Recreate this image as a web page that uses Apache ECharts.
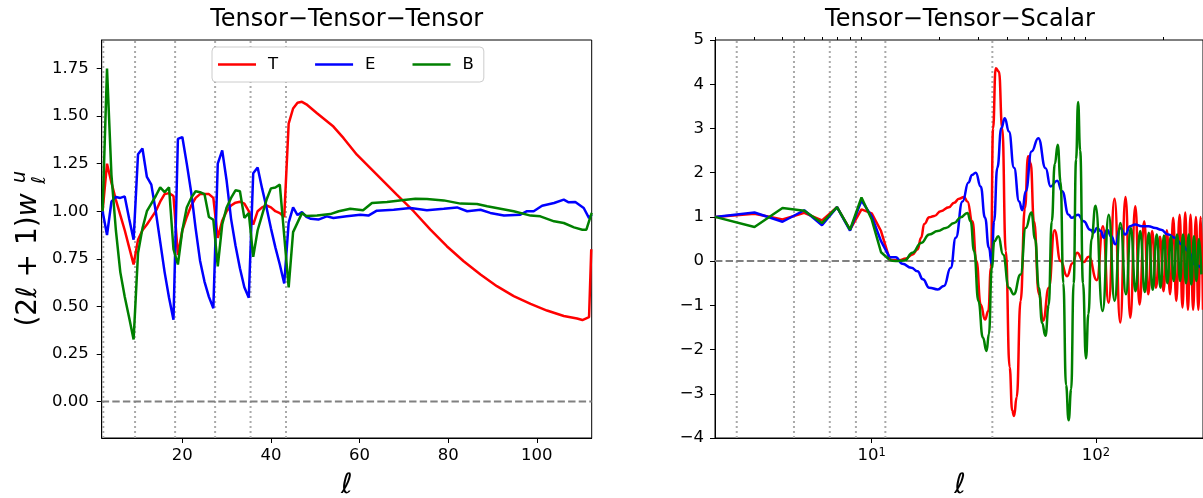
<!DOCTYPE html>
<html><head><meta charset="utf-8">
<script src="https://cdn.jsdelivr.net/npm/echarts@6/dist/echarts.min.js"></script>
<style>html,body{margin:0;padding:0;background:#fff}#c{width:1203px;height:498px}</style>
</head><body><div id="c"></div>
<script>
// ---------- names / labels ----------
const seriesNames = ['T', 'E', 'B'];
const titleLeft = 'Tensor\u2212Tensor\u2212Tensor';
const titleRight = 'Tensor\u2212Tensor\u2212Scalar';
const leftYTicks = [0, 0.25, 0.5, 0.75, 1.0, 1.25, 1.5, 1.75];
const leftXTicks = [20, 40, 60, 80, 100];
const rightXMajor = [10, 100];
const rightXMinor = [2,3,4,5,6,7,8,9,20,30,40,50,60,70,80,90,200,300];
const leftDotted = [2.16, 9.33, 18.37, 27.4, 35.4, 43.4];
const rightDotted = [2.5, 4.5, 6.5, 8.5, 11.5, 34.5];
const leftXRange = [1.8, 112.4], leftYRange = [-0.192, 1.90];
const rightXRange = [2, 300], rightYRange = [-4, 5];

// ---------- left panel (Tensor-Tensor-Tensor) ----------
const tttT = [[2,1.0],[3,1.25],[4,1.15],[5,1.06],[6,0.98],[7,0.9],[8,0.81],[9,0.72],[10,0.85],[11,0.9],[12,0.93],[13,0.965],[14,1.0],[15,1.05],[16,1.09],[17,1.095],[18,1.08],[19,0.77],[20,0.9],[21,0.97],[22,1.03],[23,1.07],[24,1.09],[25,1.09],[26,1.09],[27,1.07],[28,0.86],[29,0.95],[30,1.0],[31,1.03],[32,1.045],[33,1.05],[34,1.04],[35,1.0],[36,0.93],[37,1.0],[38,1.02],[39,1.03],[40,1.02],[41,1.0],[42,0.99],[43,0.97],[44,1.46],[45,1.54],[46,1.57],[47,1.575],[48,1.562],[50.4,1.515],[54.1,1.445],[56.4,1.384],[59.4,1.297],[63.9,1.192],[68.4,1.087],[72.2,1.0],[76,0.903],[79.7,0.816],[83.5,0.737],[87.3,0.667],[91,0.606],[94.8,0.554],[98.6,0.513],[102.3,0.478],[106.1,0.449],[109.1,0.436],[110.3,0.428],[111.8,0.443],[112.3,0.8]];
const tttE = [[2,1.0],[3,0.875],[4,1.05],[5,1.075],[6,1.07],[7,1.078],[8,0.96],[9,0.85],[10,1.30],[11,1.33],[12,1.18],[13,1.14],[14,1.0],[15,0.84],[16,0.68],[17,0.545],[18,0.43],[19,1.38],[20,1.39],[21,1.25],[22,1.10],[23,0.91],[24,0.74],[25,0.63],[26,0.55],[27,0.49],[28,1.25],[29,1.32],[30,1.16],[31,0.96],[32,0.82],[33,0.70],[34,0.60],[35,0.545],[36,1.20],[37,1.23],[38,1.12],[39,1.02],[40,0.91],[41,0.81],[42,0.72],[43,0.62],[44,0.94],[45,1.02],[46,0.98],[47,0.995],[48,0.97],[49,0.96],[50.7,0.956],[52.6,0.973],[54.1,0.964],[57.1,0.973],[60.2,0.982],[62,0.977],[63.9,1.003],[67.7,1.008],[71.5,1.017],[75.2,1.005],[79,1.013],[82,1.02],[84.3,1.0],[87.3,1.008],[89.5,0.991],[92.6,0.977],[96.3,0.982],[97.8,1.0],[99.3,1.0],[101.2,1.029],[103.9,1.043],[106.1,1.061],[107.2,1.047],[108.7,1.048],[110.6,1.017],[111.8,0.964],[112.4,0.982]];
const tttB = [[2,1.0],[3,1.75],[4,1.19],[5,0.9],[6,0.68],[7,0.55],[8,0.44],[9,0.326],[10,0.78],[11,0.91],[12,1.0],[13,1.04],[14,1.08],[15,1.125],[16,1.10],[17,1.125],[18,0.80],[19,0.72],[20,0.9],[21,1.02],[22,1.07],[23,1.105],[24,1.10],[25,1.09],[26,0.97],[27,0.955],[28,0.71],[29,0.93],[30,1.02],[31,1.07],[32,1.11],[33,1.105],[34,0.965],[35,0.99],[36,0.76],[37,0.9],[38,0.98],[39,1.06],[40,1.12],[41,1.125],[42,1.14],[43,0.87],[44,0.6],[45,0.89],[46,0.94],[47,0.99],[48,0.975],[50.4,0.977],[53.4,0.985],[55.3,1.0],[57.9,1.013],[60.8,1.005],[62.8,1.043],[66.2,1.048],[70,1.059],[72.6,1.066],[75.2,1.064],[79,1.057],[82.8,1.04],[86.5,1.038],[88.8,1.026],[91.8,1.013],[94.8,1.0],[98.6,0.977],[100.8,0.973],[103.9,0.947],[106.1,0.938],[108.4,0.915],[110.3,0.903],[111.2,0.903],[112.4,0.991]];

// ---------- right panel (Tensor-Tensor-Scalar): low-l (straight) ----------
const ttsT_low = [[2,1.0],[3,1.07],[4,0.94],[5,1.09],[6,0.92],[7,1.22],[8,0.71],[9,1.17],[10,1.08],[11,0.68],[12,0.05]];
const ttsE_low = [[2,1.0],[3,1.1],[4,0.89],[5,1.15],[6,0.81],[7,1.22],[8,0.69],[9,1.37],[10,1.01],[11,0.45],[12,0.09]];
const ttsB_low = [[2,1.0],[3,0.77],[4,1.2],[5,1.14],[6,0.86],[7,1.22],[8,0.71],[9,1.44],[10,0.94],[11,0.2],[12,0.03]];
// ---------- right panel: high-l (smooth) ----------
const ttsT_high = [[12,0.05],[12.4,0.02],[13.3,0.02],[14.2,0.06],[15.2,0.15],[16.0,0.26],[16.6,0.53],[17.15,0.84],[18.05,0.99],[19.0,1.02],[20.3,1.13],[22.1,1.22],[23.3,1.32],[24.5,1.41],[25.8,1.45],[26.7,1.35],[28.1,0.9],[29.3,0.0],[30.6,-0.98],[32.0,-1.32],[33.1,-1.13],[34.0,-0.15],[34.75,3.0],[35.7,4.36],[36.9,4.29],[38.2,3.0],[39.6,0.23],[41.2,-2.4],[42.3,-3.38],[43.1,-3.5],[44.3,-3.08],[46.1,-0.9],[48.2,1.2],[49.8,2.37],[51.1,2.22],[52.9,0.9],[55.7,-0.75],[58.1,-1.35],[61.6,-0.6],[65.3,0.7],[69.5,0.0],[74.3,-0.34],[78.5,-0.05],[82.3,0.19],[88.1,-0.02],[92.8,0.1],[100.9,-0.43],[107.4,0.79],[113.8,-0.94],[121,1.41],[128.3,-1.39],[135.4,1.45],[142.2,-1.28],[149.7,1.24],[156.4,-0.98],[164,0.9],[171,-0.75],[178,0.68],[185,-0.6],[193,0.55],[200,-0.68],[207,0.7],[214,-0.75],[221,0.98],[228,-0.9],[236,1.05],[243,-1.05],[250,1.1],[257,-1.1],[264,1.05],[271,-1.1],[279,1.0],[286,-1.1],[293,1.0],[300,-1.1]];
const ttsE_high = [[12,0.09],[12.8,0.09],[13.7,-0.06],[15.0,-0.15],[16.0,-0.23],[16.9,-0.41],[18.05,-0.6],[19.7,-0.64],[21.0,-0.56],[22.5,-0.15],[23.7,0.53],[25.4,1.35],[27.0,1.78],[28.0,1.95],[29.1,2.0],[30.6,1.69],[32.0,0.98],[33.3,0.30],[34.3,-0.07],[35.1,0.9],[36.3,2.11],[37.85,3.01],[39.2,3.23],[40.9,2.93],[43.1,2.11],[45.4,1.35],[46.9,1.15],[48.6,1.58],[51.6,2.48],[55.3,2.78],[59.6,2.1],[62.7,1.69],[67.1,1.82],[70.6,1.58],[75.5,1.05],[77.8,0.98],[83.2,1.05],[88.1,0.9],[94.2,0.71],[97.6,0.64],[101,0.75],[105,0.68],[108.4,0.53],[112,0.71],[117,0.56],[122,0.38],[128.3,0.75],[135,0.6],[142,0.79],[149.5,0.83],[160,0.79],[171.5,0.79],[184,0.75],[195,0.71],[210,0.6],[225,0.53],[241,0.38],[258,0.23],[276,-0.08],[295,-0.15]];
const ttsB_high = [[12,0.03],[12.8,0.0],[14.0,0.015],[15.2,0.19],[16.6,0.41],[18.05,0.6],[19.7,0.68],[21.4,0.75],[23.3,0.86],[24.95,0.99],[26.7,1.09],[27.6,0.9],[28.6,0.23],[29.9,-0.9],[31.3,-1.73],[32.5,-2.03],[33.3,-1.65],[34.3,-0.15],[35.2,0.45],[36.7,0.56],[38.5,0.15],[40.9,-0.6],[43.0,-0.75],[46.1,-0.3],[48.6,0.75],[51.5,1.1],[53.5,0.5],[55.6,-0.6],[57.5,-1.4],[59.5,-1.69],[61.5,-1.0],[63.5,0.9],[65.5,2.2],[67.5,2.63],[69.5,1.8],[71.5,-0.5],[73.5,-2.8],[75.5,-3.6],[77.5,-2.9],[79.5,-0.5],[81.5,2.3],[83.2,3.6],[85,2.5],[87.5,-0.5],[90.2,-2.2],[92.5,-1.2],[95.5,0.5],[99.5,1.25],[107,-1.13],[114,1.05],[121,-0.9],[128.5,0.86],[136,-0.75],[143,0.75],[150,-0.68],[157.5,0.68],[165,-0.7],[172,0.64],[179,-0.65],[186.5,0.6],[194,-0.6],[201,0.58],[208,-0.5],[215.5,0.56],[222,-0.45],[230,0.6],[237,-0.45],[244.5,0.6],[252,-0.5],[259,0.6],[266,-0.53],[273.5,0.56],[280,-0.45],[288,0.5],[295,-0.3]];

const COL = {T:'#ff0000', E:'#0000ff', B:'#008000'};
const FONT = 'DejaVu Sans';
const LW = 2.5;

const chart = echarts.init(document.getElementById('c'), null, {renderer:'canvas'});

function lineSeries(name, data, xi, yi, smooth) {
  const s = {type:'line', name, data, xAxisIndex:xi, yAxisIndex:yi, symbol:'none', showSymbol:false,
    smooth: smooth || false,
    lineStyle:{color:COL[name], width:LW}, itemStyle:{color:COL[name]}, clip:true, silent:true, z:3, animation:false};
  if (smooth) s.smoothMonotone = 'x';
  return s;
}
function guideLine(xi, yi, data, color, dash, z) {
  return {type:'line', data, xAxisIndex:xi, yAxisIndex:yi, symbol:'none', showSymbol:false, silent:true, z, animation:false,
    clip:true, lineStyle:{color, width:2, type:dash}, itemStyle:{color}};
}
const guides = [];
leftDotted.forEach(v => guides.push(guideLine(0, 0, [[v, leftYRange[0]], [v, leftYRange[1]]], '#aaaaaa', [2, 3], 1)));
rightDotted.forEach(v => guides.push(guideLine(1, 1, [[v, rightYRange[0]], [v, rightYRange[1]]], '#aaaaaa', [2, 3], 1)));
guides.push(guideLine(0, 0, [[leftXRange[0], 0], [leftXRange[1], 0]], '#808080', [7.4, 3.2], 2));
guides.push(guideLine(1, 1, [[rightXRange[0], 0], [rightXRange[1], 0]], '#808080', [7.4, 3.2], 2));

const tickLabel = {fontFamily:FONT, fontSize:16.5, color:'#000'};

const option = {
  animation:false,
  backgroundColor:'#fff',
  grid:[
    {left:101.7, top:40, width:490, height:398, show:true, borderColor:'#000', borderWidth:1, backgroundColor:'rgba(0,0,0,0)'},
    {left:715, top:40, width:490, height:398, show:true, borderColor:'#000', borderWidth:1, backgroundColor:'rgba(0,0,0,0)'}
  ],
  legend:{
    data:seriesNames, left:212, top:47, orient:'horizontal',
    icon:'rect', itemWidth:38, itemHeight:2.5, itemGap:37,
    backgroundColor:'#ffffff', borderColor:'#cccccc', borderWidth:1, borderRadius:4,
    padding:[9,10,9,6],
    textStyle:{fontFamily:FONT, fontSize:16.5, color:'#000', padding:[0,0,0,7]},
    selectedMode:false
  },
  xAxis:[
    {type:'value', gridIndex:0, min:leftXRange[0], max:leftXRange[1],
      axisLine:{show:true, onZero:false, lineStyle:{color:'#000', width:1}},
      axisTick:{show:true, inside:false, length:5, lineStyle:{color:'#000'}, customValues:leftXTicks},
      axisLabel:Object.assign({margin:9, customValues:leftXTicks}, tickLabel),
      splitLine:{show:false}},
    {type:'log', logBase:10, gridIndex:1, min:rightXRange[0], max:rightXRange[1],
      axisLine:{show:true, onZero:false, lineStyle:{color:'#000', width:1}},
      axisTick:{show:true, inside:false, length:5, lineStyle:{color:'#000'}, customValues:rightXMajor},
      axisLabel:Object.assign({margin:9, customValues:rightXMajor,
        formatter: v => (Math.round(Math.log10(v)) === 1 ? '10{s|1}' : '10{s|2}'),
        rich:{s:{fontFamily:FONT, fontSize:11.5, verticalAlign:'top', color:'#000'}}}, tickLabel),
      splitLine:{show:false}, minorTick:{show:false}},
    {type:'log', logBase:10, gridIndex:1, min:rightXRange[0], max:rightXRange[1],
      axisLine:{show:false, onZero:false},
      axisTick:{show:true, inside:false, length:3, lineStyle:{color:'#000'}, customValues:rightXMinor},
      axisLabel:{show:false},
      splitLine:{show:false}}
  ],
  yAxis:[
    {type:'value', gridIndex:0, min:leftYRange[0], max:leftYRange[1],
      axisLine:{show:true, onZero:false, lineStyle:{color:'#000', width:1}},
      axisTick:{show:true, inside:false, length:5, lineStyle:{color:'#000'}, customValues:leftYTicks},
      axisLabel:Object.assign({margin:13, customValues:leftYTicks, formatter:v=>v.toFixed(2)}, tickLabel),
      splitLine:{show:false}},
    {type:'value', gridIndex:1, min:rightYRange[0], max:rightYRange[1], interval:1,
      axisLine:{show:true, onZero:false, lineStyle:{color:'#000', width:1}},
      axisTick:{show:true, inside:false, length:5, lineStyle:{color:'#000'}},
      axisLabel:Object.assign({margin:11, formatter:v=>String(v).replace('-', '\u2212')}, tickLabel),
      splitLine:{show:false}}
  ],
  series: guides.concat([
    lineSeries('T', tttT, 0, 0),
    lineSeries('E', tttE, 0, 0),
    lineSeries('B', tttB, 0, 0),
    lineSeries('T', ttsT_low, 1, 1),
    lineSeries('E', ttsE_low, 1, 1),
    lineSeries('B', ttsB_low, 1, 1),
    lineSeries('T', ttsT_high, 1, 1, 0.5),
    lineSeries('E', ttsE_high, 1, 1, 0.5),
    lineSeries('B', ttsB_high, 1, 1, 0.5)
  ]),
  graphic:[
    {type:'text', x:346.7, y:20, style:{text:titleLeft, font:'24px "DejaVu Sans"', fill:'#000', align:'center', verticalAlign:'middle'}},
    {type:'text', x:960, y:20, style:{text:titleRight, font:'24px "DejaVu Sans"', fill:'#000', align:'center', verticalAlign:'middle'}},
    {type:'text', x:346.7, y:486, style:{text:'\u2113', font:'italic 28px "DejaVu Sans"', fill:'#000', align:'center', verticalAlign:'middle'}},
    {type:'text', x:960, y:486, style:{text:'\u2113', font:'italic 28px "DejaVu Sans"', fill:'#000', align:'center', verticalAlign:'middle'}},
    {type:'text', x:29, y:260, rotation:Math.PI/2,
      style:{text:'(2{i|\u2113} + 1){i|w}', font:'28px "DejaVu Sans"', fill:'#000', align:'center', verticalAlign:'middle',
        rich:{i:{fontFamily:FONT, fontSize:28, fontStyle:'italic'}}}},
    {type:'text', x:20, y:177, rotation:Math.PI/2,
      style:{text:'u', font:'italic 19px "DejaVu Sans"', fill:'#000', align:'center', verticalAlign:'middle'}},
    {type:'text', x:40, y:180, rotation:Math.PI/2,
      style:{text:'\u2113', font:'italic 19px "DejaVu Sans"', fill:'#000', align:'center', verticalAlign:'middle'}}
  ]
};
chart.setOption(option);
</script></body></html>
